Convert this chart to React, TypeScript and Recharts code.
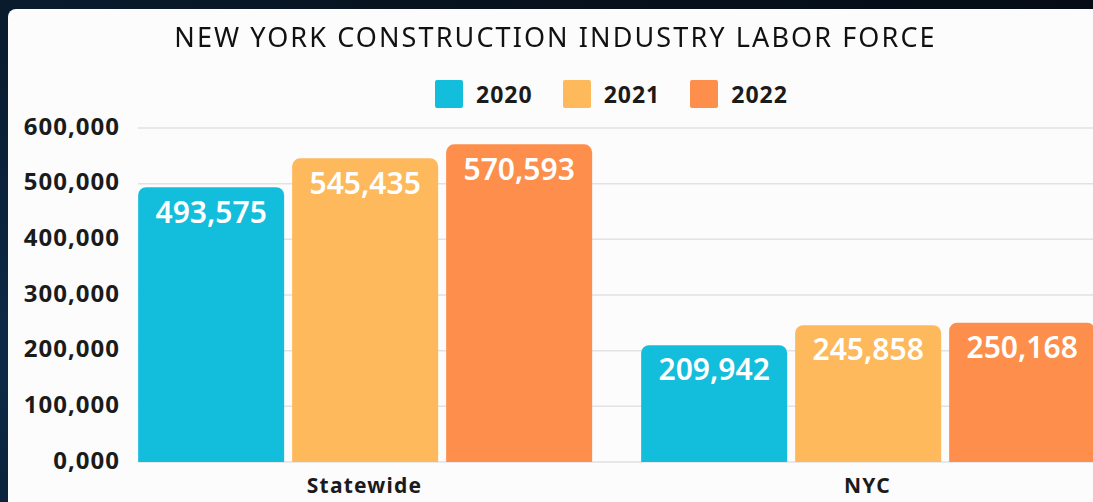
import React from "react";
import {
  Bar,
  BarChart,
  CartesianGrid,
  LabelList,
  Legend,
  XAxis,
  YAxis,
} from "recharts";

// Valores
const categories = ["Statewide", "NYC"];
const y2020 = [493575, 209942];
const y2021 = [545435, 245858];
const y2022 = [570593, 250168];
const yTicks = [0, 100000, 200000, 300000, 400000, 500000, 600000];

const data = categories.map((name, i) => ({
  name,
  y2020: y2020[i],
  y2021: y2021[i],
  y2022: y2022[i],
}));

const FONT = "'Noto Sans', 'Open Sans', sans-serif";
const fmt = (v: number) => (v === 0 ? "0,000" : v.toLocaleString("en-US"));

function LegendBox({ payload }: any) {
  return (
    <div style={{ display: "flex", alignItems: "center", fontFamily: FONT }}>
      {(payload || []).map((p: any) => (
        <div
          key={p.value}
          style={{ display: "flex", alignItems: "center", marginRight: 30 }}
        >
          <span
            style={{
              width: 28,
              height: 28,
              background: p.color,
              borderRadius: 2,
              marginRight: 13,
            }}
          />
          <span
            style={{
              fontSize: 23,
              fontWeight: 700,
              color: "#1b1b1b",
              letterSpacing: 1,
            }}
          >
            {p.value}
          </span>
        </div>
      ))}
    </div>
  );
}

export default function App() {
  const label = {
    position: "insideTop" as const,
    offset: 14,
    fill: "#ffffff",
    fontSize: 30,
    fontWeight: 600,
    fontFamily: FONT,
    formatter: (v: any) => fmt(Number(v)),
  };

  return (
    <div
      style={{
        position: "fixed",
        inset: 0,
        background:
          "radial-gradient(circle at 0% 70%, #0c2a48 0%, #07131f 45%, #050c15 100%)",
        overflow: "hidden",
      }}
    >
      <div
        style={{
          position: "absolute",
          left: 8,
          top: 9,
          width: 1085,
          height: 493,
          background: "#fcfcfc",
          borderTopLeftRadius: 8,
          overflow: "hidden",
        }}
      >
        <div
          style={{
            position: "absolute",
            top: 9,
            left: 0,
            width: 1095,
            textAlign: "center",
            fontFamily: FONT,
            fontSize: 27,
            letterSpacing: 2.1,
            color: "#111",
            zIndex: 2,
          }}
        >
          NEW YORK CONSTRUCTION INDUSTRY LABOR FORCE
        </div>
        <BarChart
          width={1085}
          height={493}
          data={data}
          margin={{ top: 87, right: 0, bottom: 0, left: 0 }}
          barCategoryGap="5%"
          barGap={8}
        >
          <CartesianGrid vertical={false} stroke="#e2e2e2" strokeWidth={1.5} />
          <XAxis
            dataKey="name"
            height={40}
            padding={{ left: -25, right: -26 }}
            axisLine={false}
            tickLine={false}
            tickSize={0}
            tickMargin={16}
            tick={{
              fill: "#1b1b1b",
              fontSize: 21,
              fontWeight: 700,
              fontFamily: FONT,
              letterSpacing: 1.2,
            }}
          />
          <YAxis
            width={130}
            domain={[0, 600000]}
            ticks={yTicks}
            tickFormatter={fmt}
            axisLine={false}
            tickLine={false}
            tickSize={0}
            tickMargin={18}
            tick={{
              fill: "#1b1b1b",
              fontSize: 24,
              fontWeight: 700,
              fontFamily: FONT,
              letterSpacing: 1,
              dy: -2,
            }}
          />
          <Legend
            verticalAlign="top"
            content={<LegendBox />}
            wrapperStyle={{ top: 69, left: 427, width: "auto" }}
          />
          <Bar
            dataKey="y2020"
            name="2020"
            fill="#13bddc"
            radius={[8, 8, 0, 0]}
            isAnimationActive={false}
          >
            <LabelList dataKey="y2020" {...label} />
          </Bar>
          <Bar
            dataKey="y2021"
            name="2021"
            fill="#fdb95b"
            radius={[8, 8, 0, 0]}
            isAnimationActive={false}
          >
            <LabelList dataKey="y2021" {...label} />
          </Bar>
          <Bar
            dataKey="y2022"
            name="2022"
            fill="#fe8e4b"
            radius={[8, 8, 0, 0]}
            isAnimationActive={false}
          >
            <LabelList dataKey="y2022" {...label} />
          </Bar>
        </BarChart>
      </div>
    </div>
  );
}
